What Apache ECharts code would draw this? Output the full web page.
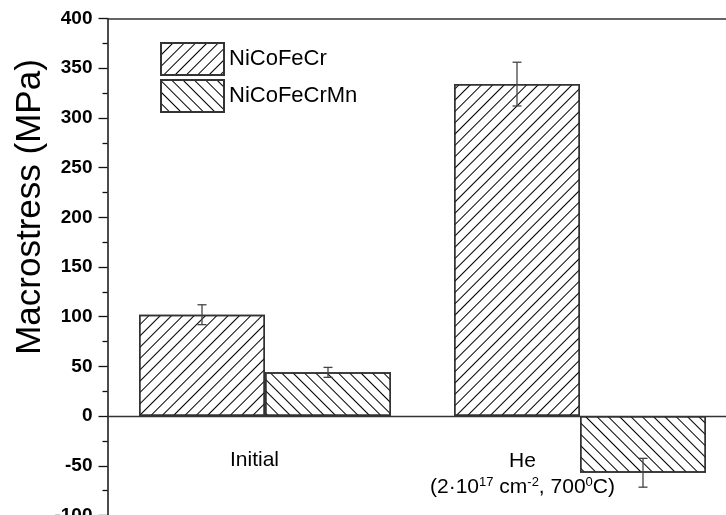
<!DOCTYPE html>
<html>
<head>
<meta charset="utf-8">
<script src="https://cdn.jsdelivr.net/npm/echarts@6/dist/echarts.min.js"></script>
<style>html,body{margin:0;padding:0;background:#fff}#c{width:726px;height:515px}</style>
</head>
<body>
<div id="c"></div>
<script>
var categories = ['Initial', 'He'];
var seriesNames = ['NiCoFeCr', 'NiCoFeCrMn'];
var valuesNiCoFeCr = [102, 334];
var valuesNiCoFeCrMn = [44, -57];
var errNiCoFeCr = [10, 22];
var errNiCoFeCrMn = [5, 14.5];
var yTicks = { min: -100, max: 400, interval: 50 };
var yTitle = 'Macrostress (MPa)';

var chart = echarts.init(document.getElementById('c'), null, { renderer: 'canvas' });
var FONT = 'Arial, "Liberation Sans", sans-serif';
var AX = '#333';

function errData(vals, errs) {
  return vals.map(function (v, i) { return [i, v - errs[i], v + errs[i]]; });
}
function errSeries(vals, errs, side) {
  return {
    type: 'custom',
    xAxisIndex: 0,
    z: 5,
    silent: true,
    data: errData(vals, errs),
    renderItem: function (params, api) {
      var band = api.size([1, 0])[0];
      var off = side * band * 0.2;
      var lo = api.coord([api.value(0), api.value(1)]);
      var hi = api.coord([api.value(0), api.value(2)]);
      var x = lo[0] + off;
      var cap = 4.5;
      var st = { stroke: '#444', lineWidth: 1.3 };
      return {
        type: 'group',
        children: [
          { type: 'line', shape: { x1: x, y1: lo[1], x2: x, y2: hi[1] }, style: st },
          { type: 'line', shape: { x1: x - cap, y1: lo[1], x2: x + cap, y2: lo[1] }, style: st },
          { type: 'line', shape: { x1: x - cap, y1: hi[1], x2: x + cap, y2: hi[1] }, style: st }
        ]
      };
    }
  };
}

var hatchA = { symbol: 'rect', symbolSize: 1, dashArrayX: [1, 0], dashArrayY: [1, 6.6], rotation: -Math.PI / 4, color: '#000' };
var hatchB = { symbol: 'rect', symbolSize: 1, dashArrayX: [1, 0], dashArrayY: [1, 6.6], rotation: Math.PI / 4, color: '#000' };

chart.setOption({
  animation: false,
  backgroundColor: '#fff',
  grid: { left: 107.5, right: -11.5, top: 18.5, bottom: -0.5, containLabel: false, outerBoundsMode: 'none' },
  legend: {
    orient: 'vertical',
    left: 155, top: 37,
    icon: 'rect',
    itemWidth: 63, itemHeight: 32, itemGap: 3,
    textStyle: { fontFamily: FONT, fontSize: 22, color: '#000' },
    data: seriesNames
  },
  xAxis: [{
    type: 'category', data: categories,
    axisLine: { onZero: true, lineStyle: { color: AX, width: 1.3 } },
    axisTick: { show: false }, axisLabel: { show: false }
  }, {
    type: 'category', data: categories, position: 'top',
    axisLine: { lineStyle: { color: AX, width: 1.5 } },
    axisTick: { show: false }, axisLabel: { show: false }
  }],
  yAxis: {
    type: 'value', min: yTicks.min, max: yTicks.max, interval: yTicks.interval,
    axisLine: { show: true, lineStyle: { color: '#111', width: 1.5 } },
    axisTick: { show: true, inside: false, length: 9, lineStyle: { color: '#111', width: 1.3 } },
    minorTick: { show: true, splitNumber: 2, length: 5, lineStyle: { color: '#111', width: 1.3 } },
    splitLine: { show: false },
    axisLabel: { fontFamily: FONT, fontSize: 19, fontWeight: 'bold', color: '#000', margin: 15 }
  },
  series: [{
    name: seriesNames[0], type: 'bar', data: valuesNiCoFeCr,
    barGap: '0%', barCategoryGap: '20%',
    itemStyle: { color: '#fff', borderColor: '#333', borderWidth: 1.5, decal: hatchA }
  }, {
    name: seriesNames[1], type: 'bar', data: valuesNiCoFeCrMn,
    barGap: '0%', barCategoryGap: '20%',
    itemStyle: { color: '#fff', borderColor: '#333', borderWidth: 1.5, decal: hatchB }
  },
    errSeries(valuesNiCoFeCr, errNiCoFeCr, -1),
    errSeries(valuesNiCoFeCrMn, errNiCoFeCrMn, 1)
  ],
  graphic: [
    { type: 'text', x: 30, y: 207, rotation: Math.PI / 2,
      style: { text: yTitle, font: '35px ' + FONT, fill: '#000', align: 'center', verticalAlign: 'middle' } },
    { type: 'text', left: 230, top: 450, style: { text: 'Initial', font: '21px ' + FONT, fill: '#000' } },
    { type: 'text', left: 509, top: 451, style: { text: 'He', font: '21px ' + FONT, fill: '#000' } },
    { type: 'text', left: 430, top: 476, style: {
      text: '(2·10{sup|17} cm{sup|-2}, 700{sup|0}C)',
      font: '21px ' + FONT, fill: '#000',
      rich: { sup: { fontSize: 13, fontFamily: FONT, fill: '#000', padding: [0, 0, 10, 0], verticalAlign: 'bottom' } }
    } }
  ]
});
</script>
</body>
</html>
